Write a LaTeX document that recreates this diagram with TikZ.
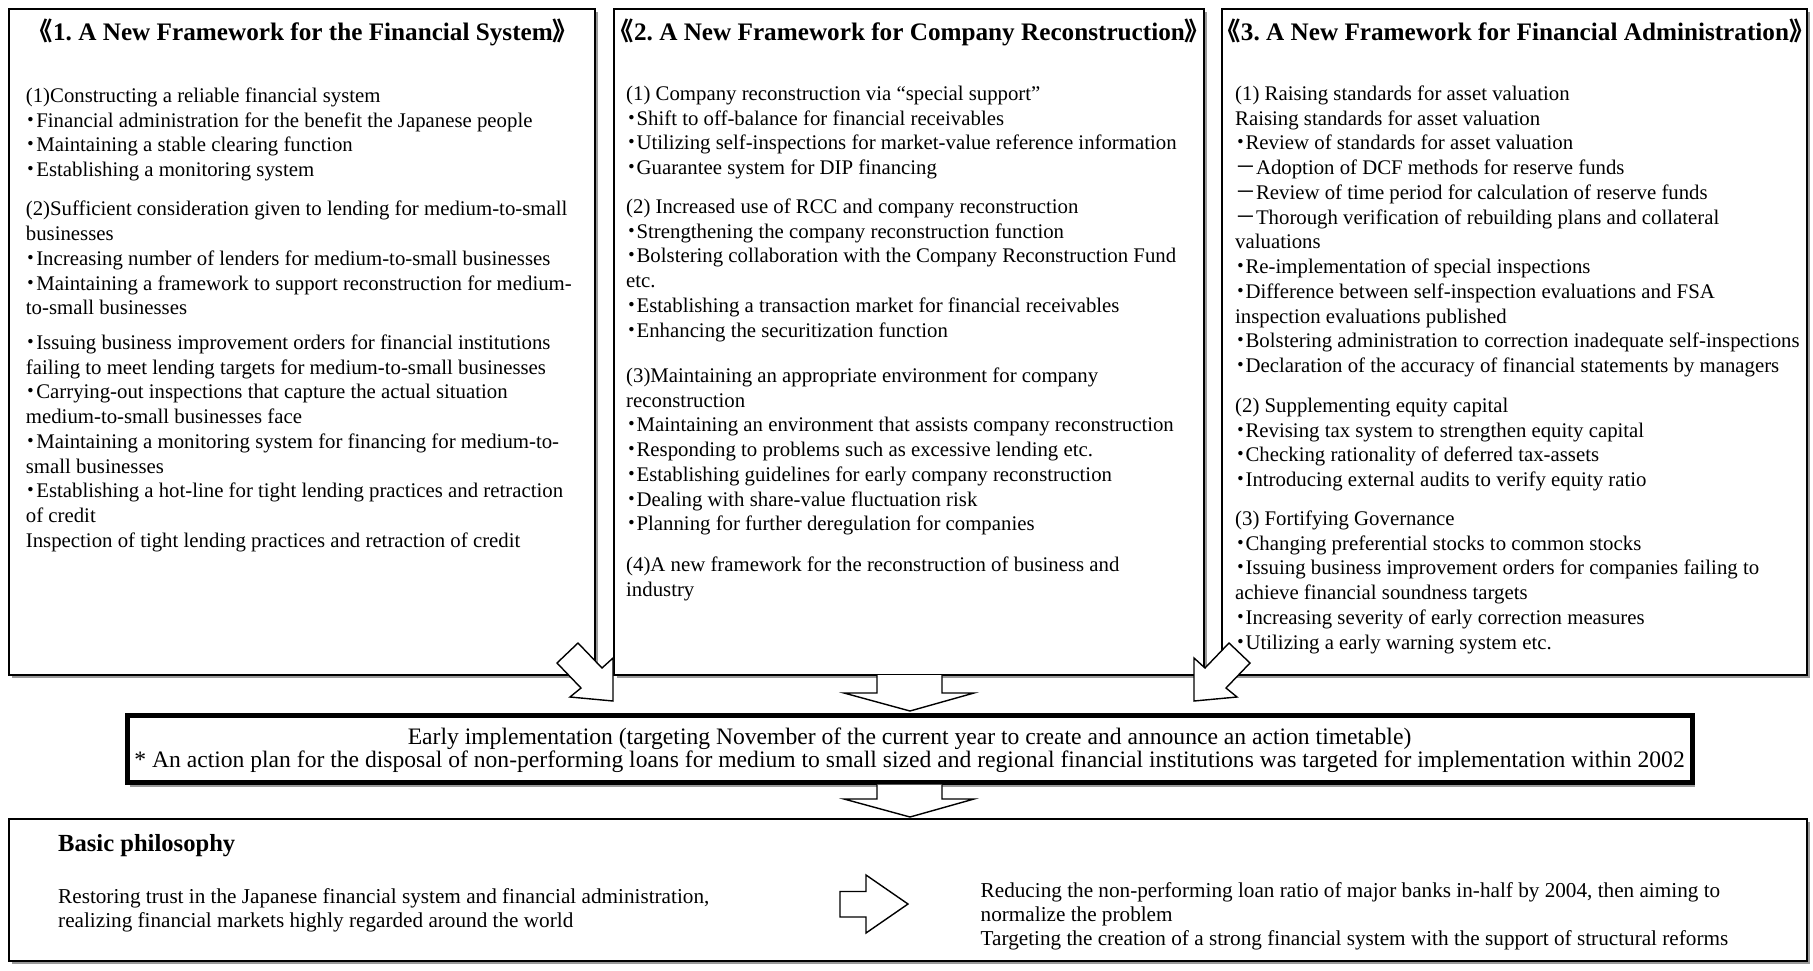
\documentclass[tikz,border=0pt]{standalone}
\usepackage{fontspec}
\setmainfont{Liberation Serif}
\newfontfamily\cjk{Noto Sans CJK JP}
\newcommand\bul{\makebox[0.5em][c]{\cjk ・}}
\newcommand\dsh{{\cjk －}}
\frenchspacing
\begin{document}
\begin{tikzpicture}[x=1pt,y=-1pt,
 txt/.style={anchor=base west, inner sep=0pt, font=\fontsize{20.8}{24.75}\selectfont},
 ttl/.style={anchor=base, inner sep=0pt, font=\bfseries\fontsize{25.2}{28}\selectfont},
 frame/.style={draw=black, line width=1.4pt, fill=white},
 thickframe/.style={draw=black, line width=5pt, fill=white},
 shade/.style={fill=black!40, draw=none},
 blockarrow/.style={draw=black, line width=1.4pt, fill=white, line join=miter},
 midtxt/.style={anchor=base, inner sep=0pt, font=\fontsize{23.6}{23}\selectfont},
 bottxt/.style={anchor=base west, inner sep=0pt, font=\fontsize{21.2}{24}\selectfont},
]
\useasboundingbox (0,0) rectangle (1813,970);
\fill[white] (0,0) rectangle (1813,970);

% shadows
\fill[shade] (11.5,11.5) rectangle (597.5,677.5);
\fill[shade] (616.5,11.5) rectangle (1206.5,677.5);
\fill[shade] (1224.5,11.5) rectangle (1809.5,677.5);
\fill[shade] (130,716) rectangle (1695,787);
\fill[shade] (11.5,821.5) rectangle (1809.5,963.5);

% boxes
\draw[frame] (9,9) rectangle (595,675);
\draw[frame] (614,9) rectangle (1204,675);
\draw[frame] (1222,9) rectangle (1807,675);
\draw[thickframe] (127,715) rectangle (1692,782);
\draw[frame] (9,819) rectangle (1807,961);

% titles
\node[ttl] (t1) at (303,40.6) {{\cjk 《}1. A New Framework for the Financial System{\cjk 》}};
\node[ttl] (t2) at (909.5,40.6) {{\cjk 《}2. A New Framework for Company Reconstruction{\cjk 》}};
\node[ttl] (t3) at (1515,40.6) {{\cjk 《}3. A New Framework for Financial Administration{\cjk 》}};

% box 1
\foreach \t [count=\i from 0] in {
 {(1)Constructing a reliable financial system},
 {\bul Financial administration for the benefit the Japanese people},
 {\bul Maintaining a stable clearing function},
 {\bul Establishing a monitoring system}}
 \node[txt] (pa\i) at (25.7,{102.3+\i*24.75}) {\t};
\foreach \t [count=\i from 0] in {
 {(2)Sufficient consideration given to lending for medium-to-small},
 {businesses},
 {\bul Increasing number of lenders for medium-to-small businesses},
 {\bul Maintaining a framework to support reconstruction for medium-},
 {to-small businesses}}
 \node[txt] (pb\i) at (25.7,{215.8+\i*24.75}) {\t};
\foreach \t [count=\i from 0] in {
 {\bul Issuing business improvement orders for financial institutions},
 {failing to meet lending targets for medium-to-small businesses},
 {\bul Carrying-out inspections that capture the actual situation},
 {medium-to-small businesses face},
 {\bul Maintaining a monitoring system for financing for medium-to-},
 {small businesses},
 {\bul Establishing a hot-line for tight lending practices and retraction},
 {of credit},
 {Inspection of tight lending practices and retraction of credit}}
 \node[txt] (pc\i) at (25.7,{349.3+\i*24.75}) {\t};

% box 2
\foreach \t [count=\i from 0] in {
 {(1) Company reconstruction via “special support”},
 {\bul Shift to off-balance for financial receivables},
 {\bul Utilizing self-inspections for market-value reference information},
 {\bul Guarantee system for DIP financing}}
 \node[txt] (qa\i) at (626,{100.3+\i*24.75}) {\t};
\foreach \t [count=\i from 0] in {
 {(2) Increased use of RCC and company reconstruction},
 {\bul Strengthening the company reconstruction function},
 {\bul Bolstering collaboration with the Company Reconstruction Fund},
 {etc.},
 {\bul Establishing a transaction market for financial receivables},
 {\bul Enhancing the securitization function}}
 \node[txt] (qb\i) at (626,{213.3+\i*24.75}) {\t};
\foreach \t [count=\i from 0] in {
 {(3)Maintaining an appropriate environment for company},
 {reconstruction},
 {\bul Maintaining an environment that assists company reconstruction},
 {\bul Responding to problems such as excessive lending etc.},
 {\bul Establishing guidelines for early company reconstruction},
 {\bul Dealing with share-value fluctuation risk},
 {\bul Planning for further deregulation for companies}}
 \node[txt] (qc\i) at (626,{382.3+\i*24.75}) {\t};
\foreach \t [count=\i from 0] in {
 {(4)A new framework for the reconstruction of business and},
 {industry}}
 \node[txt] (qd\i) at (626,{571.3+\i*24.75}) {\t};

% box 3
\foreach \t [count=\i from 0] in {
 {(1) Raising standards for asset valuation},
 {Raising standards for asset valuation},
 {\bul Review of standards for asset valuation},
 {\dsh Adoption of DCF methods for reserve funds},
 {\dsh Review of time period for calculation of reserve funds},
 {\dsh Thorough verification of rebuilding plans and collateral},
 {valuations},
 {\bul Re-implementation of special inspections},
 {\bul Difference between self-inspection evaluations and FSA},
 {inspection evaluations published},
 {\bul Bolstering administration to correction inadequate self-inspections},
 {\bul Declaration of the accuracy of financial statements by managers}}
 \node[txt] (ra\i) at (1235,{100.3+\i*24.75}) {\t};
\foreach \t [count=\i from 0] in {
 {(2) Supplementing equity capital},
 {\bul Revising tax system to strengthen equity capital},
 {\bul Checking rationality of deferred tax-assets},
 {\bul Introducing external audits to verify equity ratio}}
 \node[txt] (rb\i) at (1235,{412.3+\i*24.75}) {\t};
\foreach \t [count=\i from 0] in {
 {(3) Fortifying Governance},
 {\bul Changing preferential stocks to common stocks},
 {\bul Issuing business improvement orders for companies failing to},
 {achieve financial soundness targets},
 {\bul Increasing severity of early correction measures},
 {\bul Utilizing a early warning system etc.}}
 \node[txt] (rc\i) at (1235,{525.3+\i*24.75}) {\t};

% arrows into the middle box
\draw[blockarrow] (578,643) -- (557,663) -- (581,688) -- (570,697) -- (613,701) -- (613,658) -- (602,668) -- cycle;
\draw[blockarrow] (1229,643) -- (1250,663) -- (1226,688) -- (1237,697) -- (1194,701) -- (1194,658) -- (1205,668) -- cycle;
\draw[blockarrow] (877,675) -- (877,693) -- (844,693) -- (910,711) -- (974,693) -- (942,693) -- (942,675);

% middle box text
\node[midtxt] (m1) at (909.5,744.8) {Early implementation (targeting November of the current year to create and announce an action timetable)};
\node[midtxt] (m2) at (909.5,767.8) {* An action plan for the disposal of non-performing loans for medium to small sized and regional financial institutions was targeted for implementation within 2002};

% arrow to bottom box
\draw[blockarrow] (877,784.5) -- (877,799) -- (844,799) -- (910,817) -- (974,799) -- (942,799) -- (942,784.5);

% bottom box
\node[anchor=base west, inner sep=0pt, font=\bfseries\fontsize{24.6}{28}\selectfont] (bp) at (58,851) {Basic philosophy};
\node[bottxt] (l1) at (58,903.4) {Restoring trust in the Japanese financial system and financial administration,};
\node[bottxt] (l2) at (58,927.4) {realizing financial markets highly regarded around the world};
\draw[blockarrow] (840,891.5) -- (866,891.5) -- (866,875) -- (908,904) -- (866,933) -- (866,917) -- (840,917) -- cycle;
\node[bottxt] (r1) at (980.5,897.4) {Reducing the non-performing loan ratio of major banks in-half by 2004, then aiming to};
\node[bottxt] (r2) at (980.5,921) {normalize the problem};
\node[bottxt] (r3) at (980.5,945.4) {Targeting the creation of a strong financial system with the support of structural reforms};
\end{tikzpicture}
\end{document}
